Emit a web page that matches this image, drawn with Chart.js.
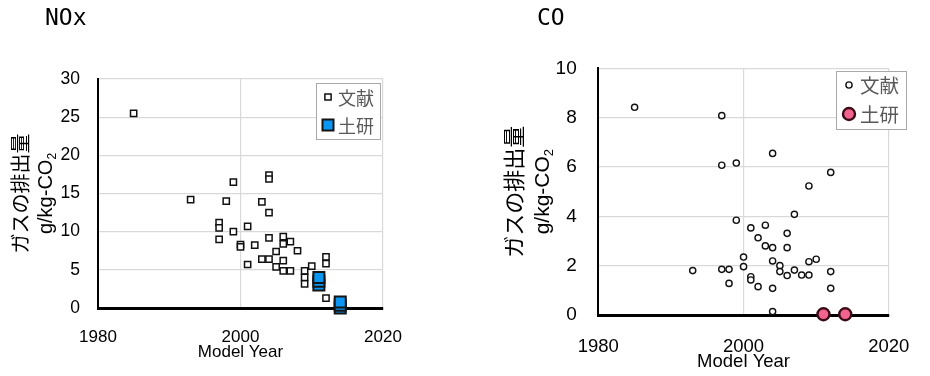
<!DOCTYPE html>
<html>
<head>
<meta charset="utf-8">
<script src="https://cdn.jsdelivr.net/npm/chart.js@4/dist/chart.umd.min.js"></script>
<style>
  html, body { margin: 0; padding: 0; background: #fff; }
  #wrap { position: relative; width: 930px; height: 376px; overflow: hidden; }
  .panel { position: absolute; top: 0; width: 465px; height: 376px; }
</style>
</head>
<body>
<div id="wrap">
  <div class="panel" style="left:0"><canvas id="noxChart" width="465" height="376"></canvas></div>
  <div class="panel" style="left:465px"><canvas id="coChart" width="465" height="376"></canvas></div>
</div>
<script>
// ---- data ----
const yearTicks = [1980, 2000, 2020];
const noxTicks = [0, 5, 10, 15, 20, 25, 30];
const coTicks = [0, 2, 4, 6, 8, 10];
const seriesNames = ['文献', '土研'];

// NOx, literature values (g/kg-CO2)
const noxLitYears  = [1985, 1993, 1997, 1997, 1997, 1998, 1999, 1999, 2000, 2000, 2001, 2001, 2002, 2003, 2003,
                      2004, 2004, 2004, 2004, 2004, 2005, 2005, 2006, 2006, 2006, 2006, 2007, 2007, 2008,
                      2009, 2009, 2009, 2010, 2012, 2012, 2012];
const noxLitValues = [25.5, 14.2, 11.2, 10.5, 9.0, 14.0, 16.5, 10.0, 8.3, 8.0, 10.7, 5.7, 8.25, 13.9, 6.4,
                      17.4, 16.9, 12.5, 9.2, 6.4, 7.4, 5.4, 9.35, 8.4, 6.2, 4.85, 8.7, 4.85, 7.5,
                      4.85, 4.0, 3.15, 5.5, 6.7, 5.8, 1.3];
// NOx, PWRI measurements
const noxLabYears  = [2011, 2011, 2011, 2014, 2014, 2014];
const noxLabValues = [3.0, 3.5, 4.0, 0.0, 0.35, 0.8];

// CO, literature values (g/kg-CO2)
const coLitYears  = [1985, 1993, 1997, 1997, 1997, 1998, 1998, 1999, 1999, 2000, 2000, 2001, 2001, 2001,
                     2002, 2002, 2003, 2003, 2004, 2004, 2004, 2004, 2004, 2005, 2005, 2006, 2006, 2006,
                     2007, 2007, 2008, 2009, 2009, 2009, 2010, 2012, 2012, 2012];
const coLitValues = [8.42, 1.8, 8.08, 6.07, 1.85, 1.85, 1.28, 6.16, 3.84, 2.35, 1.96, 3.53, 1.55, 1.42,
                     3.13, 1.15, 3.64, 2.8, 6.55, 2.73, 2.19, 1.08, 0.14, 2.0, 1.76, 3.31, 2.73, 1.6,
                     4.08, 1.82, 1.62, 5.23, 2.16, 1.62, 2.26, 5.78, 1.76, 1.08];
// CO, PWRI measurements
const coLabYears  = [2011, 2014];
const coLabValues = [0.03, 0.03];

const toPoints = (xs, ys) => xs.map((x, i) => ({ x: x, y: ys[i] }));

// ---- plugins ----
// boxed legend in the upper right of the plot
const boxLegend = {
  id: 'boxLegend',
  afterDraw(chart, args, o) {
    const ctx = chart.ctx;
    ctx.save();
    ctx.fillStyle = '#ffffff';
    ctx.fillRect(o.x, o.y, o.w, o.h);
    ctx.strokeStyle = '#a9a9a9';
    ctx.lineWidth = 1;
    ctx.strokeRect(o.x + 0.5, o.y + 0.5, o.w, o.h);
    chart.data.datasets.forEach((ds, i) => {
      const cx = o.x + o.markerX;
      const cy = o.y + o.rows[i];
      ctx.fillStyle = ds.pointBackgroundColor;
      ctx.strokeStyle = ds.pointBorderColor;
      ctx.lineWidth = ds.pointBorderWidth;
      Chart.helpers.drawPoint(ctx, {
        pointStyle: ds.pointStyle, rotation: 0,
        radius: ds.pointRadius, borderWidth: ds.pointBorderWidth
      }, cx, cy);
      ctx.fillStyle = '#595959';
      ctx.font = o.fontSize + 'px "Noto Sans CJK JP"';
      ctx.textAlign = 'left';
      ctx.textBaseline = 'middle';
      ctx.fillText(ds.label, o.x + o.textX, cy + 1);
    });
    ctx.restore();
  }
};

// panel heading and the two-line vertical axis caption
const captions = {
  id: 'captions',
  afterDraw(chart, args, o) {
    const ctx = chart.ctx;
    const ca = chart.chartArea;
    const cy = (ca.top + ca.bottom) / 2;
    ctx.save();
    ctx.fillStyle = '#000';
    ctx.font = o.headSize + 'px "DejaVu Sans Mono"';
    ctx.textAlign = 'left';
    ctx.textBaseline = 'middle';
    ctx.fillText(o.head, o.headX, o.headY);

    ctx.save();
    ctx.translate(o.line1X, cy);
    ctx.rotate(-Math.PI / 2);
    ctx.font = o.line1Size + 'px "Noto Sans CJK JP"';
    ctx.textAlign = 'center';
    ctx.textBaseline = 'middle';
    ctx.fillText('ガスの排出量', 0, 0);
    ctx.restore();

    ctx.save();
    ctx.translate(o.line2X, cy);
    ctx.rotate(-Math.PI / 2);
    const mainFont = o.line2Size + 'px "Liberation Sans"';
    const subFont = Math.round(o.line2Size * 0.62) + 'px "Liberation Sans"';
    ctx.font = mainFont;
    const w1 = ctx.measureText('g/kg-CO').width;
    ctx.font = subFont;
    const w2 = ctx.measureText('2').width;
    const start = -(w1 + w2) / 2;
    ctx.textAlign = 'left';
    ctx.textBaseline = 'middle';
    ctx.font = mainFont;
    ctx.fillText('g/kg-CO', start, 0);
    ctx.font = subFont;
    ctx.fillText('2', start + w1, o.line2Size * 0.3);
    ctx.restore();
    ctx.restore();
  }
};

// ---- shared builders ----
function buildScales(s) {
  return {
    x: {
      type: 'linear', min: 1980, max: 2020,
      afterBuildTicks: sc => { sc.ticks = yearTicks.map(v => ({ value: v })); },
      afterFit: sc => { sc.height = s.xHeight; },
      ticks: {
        color: '#000', padding: s.xPad, maxRotation: 0, autoSkip: false,
        font: { family: 'Liberation Sans', size: s.tickSize },
        callback: v => String(v)
      },
      grid: {
        drawTicks: false, lineWidth: 1.2,
        color: c => (c.tick && c.tick.value === 1980) ? 'rgba(0,0,0,0)' : '#d9d9d9'
      },
      border: { color: '#000', width: 3 },
      title: {
        display: true, text: 'Model Year', color: '#000',
        font: { family: 'Liberation Sans', size: s.tickSize },
        padding: { top: 0, bottom: s.titlePad }
      }
    },
    y: {
      type: 'linear', min: s.yTicks[0], max: s.yTicks[s.yTicks.length - 1],
      afterBuildTicks: sc => { sc.ticks = s.yTicks.map(v => ({ value: v })); },
      afterFit: sc => { sc.width = s.yWidth; },
      ticks: {
        color: '#000', padding: s.yPad, autoSkip: false,
        font: { family: 'Liberation Sans', size: s.tickSize + 0.5 },
        callback: v => String(v)
      },
      grid: {
        drawTicks: false, lineWidth: 1.2,
        color: c => (c.tick && c.tick.value === 0) ? 'rgba(0,0,0,0)' : '#d9d9d9'
      },
      border: { color: '#000', width: 2 }
    }
  };
}

function buildChart(id, datasets, s) {
  return new Chart(document.getElementById(id), {
    type: 'scatter',
    data: { datasets: datasets },
    options: {
      responsive: false,
      animation: false,
      layout: { padding: { top: s.padTop, right: s.padRight, bottom: 0, left: 0 } },
      scales: buildScales(s),
      plugins: {
        legend: { display: false },
        tooltip: { enabled: false },
        boxLegend: s.legend,
        captions: s.captions
      }
    },
    plugins: [boxLegend, captions]
  });
}

// ---- NOx ----
buildChart('noxChart', [
  {
    label: seriesNames[0], data: toPoints(noxLitYears, noxLitValues),
    pointStyle: 'rect', pointRadius: 4.4, pointBorderWidth: 1.5,
    pointBackgroundColor: '#ffffff', pointBorderColor: '#111111',
    order: 1, clip: false
  },
  {
    label: seriesNames[1], data: toPoints(noxLabYears, noxLabValues),
    pointStyle: 'rect', pointRadius: 7.8, pointBorderWidth: 2,
    pointBackgroundColor: '#0a96f2', pointBorderColor: '#151515',
    order: 0, clip: false
  }
], {
  yTicks: noxTicks, padTop: 79, padRight: 82, xHeight: 68, yWidth: 98,
  xPad: 19, yPad: 18, titlePad: 13.5, tickSize: 17,
  legend: { x: 316, y: 83, w: 64, h: 56, markerX: 12, textX: 22, rows: [14, 42], fontSize: 18 },
  captions: { head: 'NOx', headX: 45, headY: 19, headSize: 23,
              line1X: 20, line1Size: 20, line2X: 46.5, line2Size: 20 }
});

// ---- CO ----
buildChart('coChart', [
  {
    label: seriesNames[0], data: toPoints(coLitYears, coLitValues),
    pointStyle: 'circle', pointRadius: 3.1, pointBorderWidth: 1.4,
    pointBackgroundColor: '#ffffff', pointBorderColor: '#111111',
    order: 1, clip: false
  },
  {
    label: seriesNames[1], data: toPoints(coLabYears, coLabValues),
    pointStyle: 'circle', pointRadius: 6, pointBorderWidth: 2.4,
    pointBackgroundColor: '#f2638f', pointBorderColor: '#3a0b16',
    order: 0, clip: false
  }
], {
  yTicks: coTicks, padTop: 68.3, padRight: 22.3, xHeight: 61, yWidth: 133.3,
  xPad: 20.6, yPad: 21.6, titlePad: 3.4, tickSize: 18.5,
  legend: { x: 371, y: 71, w: 70, h: 58, markerX: 13, textX: 24, rows: [14, 43], fontSize: 19.5 },
  captions: { head: 'CO', headX: 72, headY: 19, headSize: 23,
              line1X: 48.3, line1Size: 22, line2X: 78.3, line2Size: 21 }
});
</script>
</body>
</html>
